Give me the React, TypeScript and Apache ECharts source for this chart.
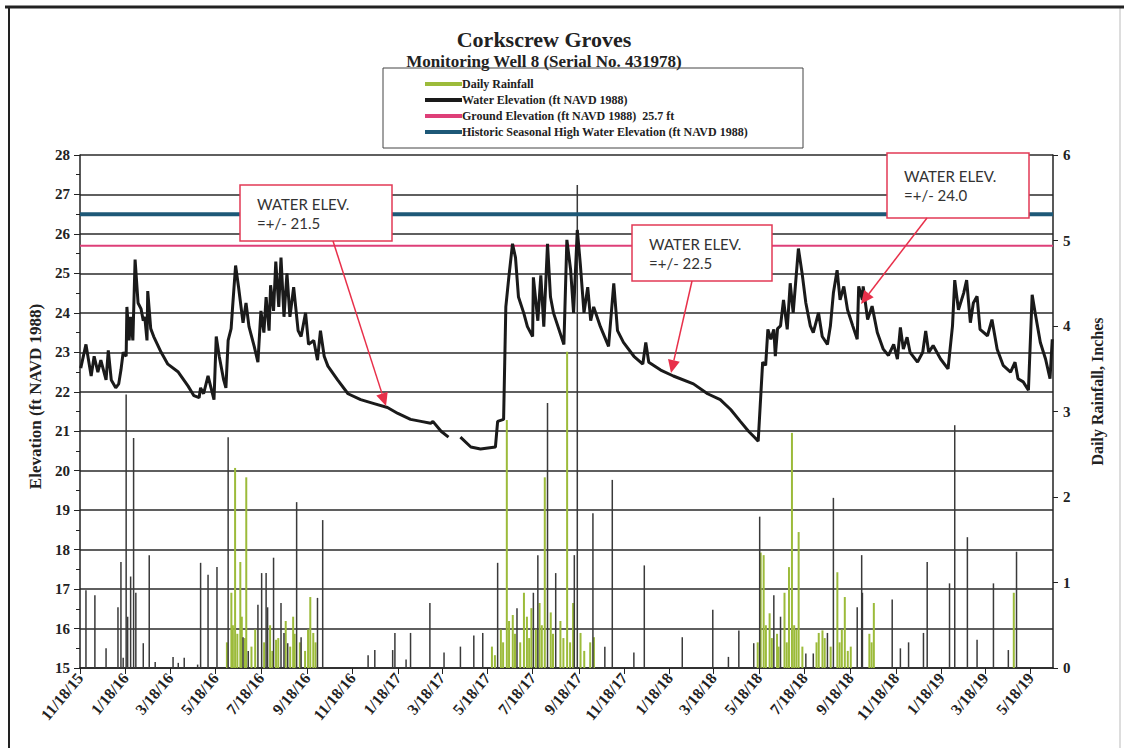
import React, { useEffect, useRef } from 'react';
import * as echarts from 'echarts';

const chartTitle = 'Corkscrew Groves';
const chartSubtitle = 'Monitoring Well 8 (Serial No. 431978)';

const xStart = '2015-11-18';
const xEnd = '2019-06-17';

const tickDates = [
  '2015-11-18', '2016-01-18', '2016-03-18', '2016-05-18', '2016-07-18', '2016-09-18',
  '2016-11-18', '2017-01-18', '2017-03-18', '2017-05-18', '2017-07-18', '2017-09-18',
  '2017-11-18', '2018-01-18', '2018-03-18', '2018-05-18', '2018-07-18', '2018-09-18',
  '2018-11-18', '2019-01-18', '2019-03-18', '2019-05-18',
];
const tickLabels = [
  '11/18/15', '1/18/16', '3/18/16', '5/18/16', '7/18/16', '9/18/16',
  '11/18/16', '1/18/17', '3/18/17', '5/18/17', '7/18/17', '9/18/17',
  '11/18/17', '1/18/18', '3/18/18', '5/18/18', '7/18/18', '9/18/18',
  '11/18/18', '1/18/19', '3/18/19', '5/18/19',
];

const waterDates = [
  '2015-11-19', '2015-11-26', '2015-12-03', '2015-12-07', '2015-12-12', '2015-12-16', '2015-12-23', '2015-12-26', '2015-12-30',
  '2016-01-05', '2016-01-09', '2016-01-12', '2016-01-15', '2016-01-19', '2016-01-20', '2016-01-23', '2016-01-25', '2016-01-28', '2016-01-31',
  '2016-02-04', '2016-02-08', '2016-02-11', '2016-02-13', '2016-02-16', '2016-02-17', '2016-02-21', '2016-02-25',
  '2016-03-06', '2016-03-15', '2016-03-29', '2016-04-11', '2016-04-19', '2016-04-26', '2016-04-28',
  '2016-05-02', '2016-05-08', '2016-05-12', '2016-05-16', '2016-05-19', '2016-05-23', '2016-05-29',
  '2016-06-01', '2016-06-04', '2016-06-08', '2016-06-10', '2016-06-14', '2016-06-18', '2016-06-24', '2016-06-28',
  '2016-07-02', '2016-07-09', '2016-07-14', '2016-07-18', '2016-07-22', '2016-07-25', '2016-07-29', '2016-07-31',
  '2016-08-04', '2016-08-07', '2016-08-11', '2016-08-14', '2016-08-18', '2016-08-22', '2016-08-26', '2016-08-31',
  '2016-09-06', '2016-09-10', '2016-09-16', '2016-09-20', '2016-09-27',
  '2016-10-02', '2016-10-06', '2016-10-11', '2016-10-16', '2016-10-29', '2016-11-12', '2016-11-29', '2016-12-17',
  '2017-01-04', '2017-01-18', '2017-02-04', '2017-02-18', '2017-03-03', '2017-03-06', '2017-03-17', '2017-03-27',
  '2017-04-04', '2017-04-12', '2017-04-26', '2017-05-09', '2017-05-29',
  '2017-06-01', '2017-06-09', '2017-06-12', '2017-06-16', '2017-06-21', '2017-06-25', '2017-06-29',
  '2017-07-06', '2017-07-11', '2017-07-18', '2017-07-19', '2017-07-25', '2017-07-29',
  '2017-08-02', '2017-08-07', '2017-08-11', '2017-08-15', '2017-08-29',
  '2017-09-02', '2017-09-07', '2017-09-11', '2017-09-16', '2017-09-20', '2017-09-25', '2017-09-30',
  '2017-10-04', '2017-10-08', '2017-10-17', '2017-10-28', '2017-11-04', '2017-11-09', '2017-11-17',
  '2017-12-01', '2017-12-13', '2017-12-17', '2017-12-21',
  '2018-01-06', '2018-01-23', '2018-02-19', '2018-03-10', '2018-03-27', '2018-04-10', '2018-04-23',
  '2018-05-04', '2018-05-13', '2018-05-17', '2018-05-23', '2018-05-27', '2018-05-30',
  '2018-06-03', '2018-06-07', '2018-06-09', '2018-06-12', '2018-06-16', '2018-06-20', '2018-06-25', '2018-06-29',
  '2018-07-03', '2018-07-10', '2018-07-15', '2018-07-20', '2018-07-26', '2018-07-30',
  '2018-08-06', '2018-08-11', '2018-08-18', '2018-08-22', '2018-08-26', '2018-08-31',
  '2018-09-04', '2018-09-09', '2018-09-14', '2018-09-21', '2018-09-27', '2018-09-29',
  '2018-10-04', '2018-10-05', '2018-10-11', '2018-10-17', '2018-10-24',
  '2018-11-01', '2018-11-08', '2018-11-15', '2018-11-20', '2018-11-24', '2018-11-28',
  '2018-12-03', '2018-12-07', '2018-12-17', '2018-12-24', '2018-12-28',
  '2019-01-01', '2019-01-07', '2019-01-17', '2019-01-27',
  '2019-02-02', '2019-02-05', '2019-02-10', '2019-02-17', '2019-02-21', '2019-02-26',
  '2019-03-02', '2019-03-07', '2019-03-11', '2019-03-21', '2019-03-27',
  '2019-04-03', '2019-04-11', '2019-04-21', '2019-04-27',
  '2019-05-01', '2019-05-08', '2019-05-15', '2019-05-20', '2019-05-24', '2019-05-31',
  '2019-06-07', '2019-06-13', '2019-06-16',
];
const waterValues: (number | null)[] = [
  22.6, 23.2, 22.4, 22.9, 22.5, 22.8, 22.3, 23.05, 22.3,
  22.1, 22.2, 22.55, 23.0, 22.9, 24.15, 23.3, 23.9, 23.3, 25.35,
  24.25, 24.1, 23.8, 23.9, 23.3, 24.55, 23.6, 23.4,
  23.0, 22.7, 22.5, 22.15, 21.9, 21.85, 22.1,
  21.95, 22.4, 22.1, 21.8, 23.4, 22.9, 22.3,
  22.1, 23.3, 23.6, 24.15, 25.2, 24.65, 23.75, 24.25,
  23.65, 23.15, 22.75, 24.05, 23.5, 24.4, 23.55, 24.7,
  24.05, 25.3, 24.15, 25.4, 23.9, 25.0, 23.9, 24.65,
  23.55, 23.4, 24.0, 23.2, 23.3,
  22.8, 23.55, 22.9, 22.65, 22.3, 21.95, 21.8, 21.7,
  21.6, 21.45, 21.3, 21.25, 21.2, 21.25, 21.0, 20.85,
  null, 20.85, 20.6, 20.55, 20.6,
  21.25, 21.3, 24.15, 24.9, 25.75, 25.4, 24.4,
  24.0, 23.65, 23.4, 24.9, 23.8, 24.95,
  23.65, 25.75, 24.4, 24.0, 23.2,
  25.85, 25.1, 24.0, 26.1, 25.25, 24.0, 24.65,
  23.8, 24.15, 23.65, 23.15, 24.75, 23.55, 23.25,
  22.9, 22.7, 23.25, 22.75,
  22.55, 22.4, 22.2, 21.95, 21.8, 21.55, 21.25,
  21.0, 20.83, 20.75, 22.75, 22.67, 23.58,
  23.33, 23.58, 22.9, 23.6, 23.67, 24.33, 23.58, 24.75,
  24.0, 25.63, 25.0, 24.25, 23.67, 23.5,
  24.0, 23.4, 23.2, 23.67, 24.5, 25.08,
  24.33, 24.67, 24.08, 23.67, 23.33, 24.67,
  24.33, 24.67, 23.83, 24.17, 23.5,
  23.08, 22.92, 23.2, 22.83, 23.63, 23.08,
  23.38, 23.0, 22.75, 23.0, 23.54,
  23.0, 23.17, 22.83, 22.58,
  23.67, 24.83, 24.08, 24.5, 24.83, 23.75,
  24.25, 24.42, 23.58, 23.42, 23.83,
  23.08, 22.67, 22.5, 22.75,
  22.33, 22.25, 22.04, 24.46, 24.0, 23.25,
  22.83, 22.33, 23.33,
];

// Daily rainfall (inches) printed in green in the reference
const rainGreenDates = [
  '2016-06-02', '2016-06-08', '2016-06-10', '2016-06-13', '2016-06-16', '2016-06-20', '2016-06-22', '2016-06-26', '2016-06-28',
  '2016-07-05', '2016-07-10', '2016-07-22', '2016-07-30', '2016-08-02', '2016-08-07', '2016-08-10', '2016-08-20', '2016-08-26',
  '2016-08-30', '2016-09-01', '2016-09-08', '2016-09-15', '2016-09-19', '2016-09-22', '2016-09-26', '2016-09-29',
  '2017-05-24', '2017-05-28', '2017-06-05', '2017-06-08', '2017-06-13', '2017-06-16', '2017-06-21', '2017-06-24',
  '2017-07-01', '2017-07-06', '2017-07-10', '2017-07-13', '2017-07-16', '2017-07-22', '2017-07-27', '2017-07-30',
  '2017-08-03', '2017-08-11', '2017-08-14', '2017-08-24', '2017-08-28', '2017-09-02', '2017-09-06', '2017-09-10',
  '2017-09-20', '2017-09-25', '2017-10-03', '2017-10-08',
  '2018-05-16', '2018-05-20', '2018-05-24', '2018-05-27', '2018-06-01', '2018-06-04', '2018-06-11', '2018-06-13',
  '2018-06-21', '2018-06-24', '2018-06-27', '2018-07-01', '2018-07-04', '2018-07-07', '2018-07-10', '2018-07-15',
  '2018-08-03', '2018-08-06', '2018-08-11', '2018-08-14', '2018-08-22', '2018-08-31', '2018-09-03', '2018-09-06',
  '2018-09-10', '2018-09-14', '2018-09-18', '2018-10-13', '2018-10-16', '2018-10-19', '2019-04-25',
];
const rainGreenValues = [
  0.3, 0.88, 0.5, 2.34, 0.4, 1.24, 0.6, 0.35, 2.23,
  0.25, 0.45, 0.3, 0.5, 0.2, 0.33, 0.35, 0.55, 0.25,
  0.6, 0.4, 0.3, 0.2, 0.45, 0.83, 0.41, 0.3,
  0.25, 0.15, 0.45, 0.3, 2.9, 0.55, 0.62, 0.4,
  0.3, 0.88, 0.6, 0.35, 0.7, 0.45, 0.76, 0.5,
  2.23, 0.65, 0.4, 0.55, 0.35, 3.7, 0.3, 0.76,
  0.41, 0.2, 0.3, 0.36,
  0.3, 1.35, 1.32, 0.5, 0.64, 0.35, 0.4, 0.25,
  0.88, 0.3, 1.18, 2.75, 0.5, 0.45, 1.59, 0.25,
  0.3, 0.41, 0.44, 0.35, 0.25, 1.12, 0.3, 0.45,
  0.83, 0.2, 0.25, 0.4, 0.3, 0.76, 0.88,
];

// Daily rainfall (inches) printed dark in the reference
const rainDarkDates = [
  '2015-11-26', '2015-12-08', '2015-12-23', '2016-01-08', '2016-01-12', '2016-01-15', '2016-01-19', '2016-01-21',
  '2016-01-25', '2016-01-29', '2016-02-01', '2016-02-11', '2016-02-19', '2016-02-27', '2016-03-22', '2016-03-29',
  '2016-04-06', '2016-04-24', '2016-04-28', '2016-05-08', '2016-05-20', '2016-06-04', '2016-06-24', '2016-07-01',
  '2016-07-14', '2016-07-19', '2016-07-25', '2016-07-27', '2016-08-04', '2016-08-14', '2016-08-18', '2016-08-23',
  '2016-09-04', '2016-09-10', '2016-10-02', '2016-10-09', '2016-12-09', '2016-12-18',
  '2017-01-11', '2017-01-14', '2017-01-29', '2017-02-04', '2017-03-02', '2017-03-21', '2017-04-12', '2017-04-30',
  '2017-05-12', '2017-06-01', '2017-06-27', '2017-07-19', '2017-07-25', '2017-08-07', '2017-08-18', '2017-09-12',
  '2017-09-16', '2017-10-07', '2017-10-23', '2017-11-02', '2017-12-01', '2017-12-15',
  '2018-02-04', '2018-03-17', '2018-04-07', '2018-04-21', '2018-05-11', '2018-05-19', '2018-06-07', '2018-06-16',
  '2018-07-20', '2018-07-30', '2018-08-18', '2018-08-26', '2018-09-27', '2018-10-03', '2018-10-04',
  '2018-11-13', '2018-11-24', '2018-12-05', '2018-12-25', '2018-12-30',
  '2019-01-29', '2019-02-05', '2019-02-22', '2019-03-07', '2019-03-29', '2019-04-18', '2019-04-29',
];
const rainDarkValues = [
  0.91, 0.85, 0.23, 0.71, 1.24, 0.12, 3.2, 0.6,
  1.07, 2.69, 0.88, 0.29, 1.32, 0.07, 0.13, 0.06,
  0.12, 0.04, 1.23, 1.09, 1.18, 2.7, 0.36, 0.2,
  0.74, 1.11, 1.11, 0.71, 1.29, 0.76, 0.41, 0.29,
  1.94, 0.36, 0.82, 1.73, 0.15, 0.21,
  0.21, 0.41, 0.1, 0.41, 0.76, 0.18, 0.25, 0.38,
  0.41, 1.23, 0.7, 0.88, 1.32, 3.1, 1.11, 1.32,
  5.65, 1.81, 0.25, 2.2, 0.18, 1.2,
  0.36, 0.68, 0.13, 0.44, 0.29, 1.77, 0.85, 0.6,
  0.17, 0.17, 0.41, 1.99, 0.71, 1.32, 0.88,
  0.8, 0.23, 0.3, 0.41, 1.24,
  0.99, 2.84, 1.53, 0.33, 0.99, 0.21, 1.36,
];

const groundElevation = 25.7;
const seasonalHighElevation = 26.5;

const rainfallName = 'Daily Rainfall';
const waterName = 'Water Elevation (ft NAVD 1988)';
const groundName = `Ground Elevation (ft NAVD 1988)  ${groundElevation} ft`;
const seasonalName = 'Historic Seasonal High Water Elevation (ft NAVD 1988)';

const annotationLines = [
  ['WATER ELEV.', '=+/- 21.5'],
  ['WATER ELEV.', '=+/- 22.5'],
  ['WATER ELEV.', '=+/- 24.0'],
];

const ts = (s: string) => Date.parse(s + 'T00:00:00Z');

const SERIF = '"Liberation Serif", "DejaVu Serif", serif';
const SANS = 'Lato, "Open Sans", sans-serif';

// Layout of the callout boxes (pixel geometry, not data)
const calloutLayout = [
  { box: [240, 185, 152, 56], from: [333, 241], to: [386, 406] },
  { box: [632, 225, 140, 56], from: [692, 281], to: [671, 373] },
  { box: [887, 153, 142, 65], from: [927, 218], to: [861, 304] },
];

function buildCallouts() {
  const els: any[] = [];
  calloutLayout.forEach((c, i) => {
    const [bx, by, bw, bh] = c.box;
    const [x1, y1] = c.from;
    const [x2, y2] = c.to;
    const dx = x2 - x1;
    const dy = y2 - y1;
    const len = Math.sqrt(dx * dx + dy * dy);
    const ux = dx / len;
    const uy = dy / len;
    const hl = 13;
    const hw = 6;
    const bxp = x2 - ux * hl;
    const byp = y2 - uy * hl;
    els.push({
      type: 'rect',
      shape: { x: bx, y: by, width: bw, height: bh },
      style: { fill: '#ffffff', stroke: '#e23a55', lineWidth: 1.5 },
      z: 100,
    });
    els.push({
      type: 'text',
      x: bx + 17,
      y: by + bh / 2 - 2,
      style: {
        text: annotationLines[i][0],
        font: `15px ${SANS}`,
        fill: '#333333',
        textVerticalAlign: 'bottom',
      },
      z: 101,
    });
    els.push({
      type: 'text',
      x: bx + 17,
      y: by + bh / 2 + 2,
      style: {
        text: annotationLines[i][1],
        font: `15px ${SANS}`,
        fill: '#333333',
        textVerticalAlign: 'top',
      },
      z: 101,
    });
    els.push({
      type: 'line',
      shape: { x1, y1, x2: bxp, y2: byp },
      style: { stroke: '#e8304a', lineWidth: 1.5 },
      z: 100,
    });
    els.push({
      type: 'polygon',
      shape: {
        points: [
          [x2, y2],
          [bxp - uy * hw, byp + ux * hw],
          [bxp + uy * hw, byp - ux * hw],
        ],
      },
      style: { fill: '#e8304a' },
      z: 100,
    });
  });
  return els;
}

export default function App() {
  const ref = useRef<HTMLDivElement>(null);

  useEffect(() => {
    if (!ref.current) return;
    const chart = echarts.init(ref.current, undefined, { renderer: 'svg' });
    const tickTs = tickDates.map(ts);
    const xMin = ts(xStart);
    const xMax = ts(xEnd);

    const waterData = waterDates.map((d, i) => [ts(d), waterValues[i]]);
    const rainGreenData = rainGreenDates.map((d, i) => [ts(d), rainGreenValues[i]]);
    const rainDarkData = rainDarkDates.map((d, i) => [ts(d), rainDarkValues[i]]);

    const axisFont = { fontFamily: SERIF, fontWeight: 'bold' as const, color: '#222' };

    const option: any = {
      animation: false,
      backgroundColor: '#ffffff',
      title: {
        text: chartTitle,
        subtext: chartSubtitle,
        left: 539,
        top: 23,
        textAlign: 'center',
        itemGap: 3,
        textStyle: { fontFamily: SERIF, fontWeight: 'bold', fontSize: 22, color: '#222' },
        subtextStyle: { fontFamily: SERIF, fontWeight: 'bold', fontSize: 17, color: '#222' },
      },
      legend: {
        orient: 'vertical',
        left: 425,
        top: 78,
        padding: 0,
        itemWidth: 37,
        itemHeight: 4,
        itemGap: 4,
        selectedMode: false,
        data: [
          { name: rainfallName, icon: 'rect', itemStyle: { color: '#9cbb3a' } },
          { name: waterName, icon: 'rect', itemStyle: { color: '#1a1a1a' } },
          { name: groundName, icon: 'rect', itemStyle: { color: '#de3f78' } },
          { name: seasonalName, icon: 'rect', itemStyle: { color: '#1d5877' } },
        ],
        textStyle: {
          fontFamily: SERIF,
          fontWeight: 'bold',
          fontSize: 12,
          color: '#222',
          padding: [0, 0, 0, -5],
        },
      },
      grid: {
        left: 80,
        right: 76,
        top: 155,
        bottom: 80,
        containLabel: false,
        outerBoundsMode: 'none',
      },
      xAxis: {
        type: 'value',
        min: xMin,
        max: xMax,
        splitLine: { show: false },
        axisLine: { show: true, lineStyle: { color: '#222', width: 1.5 } },
        axisTick: { show: true, customValues: tickTs, length: 6, lineStyle: { color: '#222' } },
        axisLabel: {
          customValues: tickTs,
          rotate: 50,
          margin: 7,
          fontSize: 16,
          ...axisFont,
          formatter: (v: number) => {
            const k = tickTs.indexOf(v);
            return k >= 0 ? tickLabels[k] : '';
          },
        },
      },
      yAxis: [
        {
          type: 'value',
          min: 15,
          max: 28,
          interval: 1,
          position: 'left',
          name: 'Elevation (ft NAVD 1988)',
          nameLocation: 'middle',
          nameRotate: 90,
          nameGap: 36,
          nameTextStyle: { fontFamily: SERIF, fontWeight: 'bold', fontSize: 17, color: '#222', padding: [0, 0, 0, 30] },
          axisLine: { show: true, lineStyle: { color: '#222', width: 1.5 } },
          axisTick: { show: true, length: 6, lineStyle: { color: '#222' } },
          minorTick: { show: true, splitNumber: 2, length: 4, lineStyle: { color: '#222' } },
          splitLine: { show: true, lineStyle: { color: '#2a2a2a', width: 1.5 } },
          axisLabel: { fontSize: 15, margin: 10, ...axisFont },
        },
        {
          type: 'value',
          min: 0,
          max: 6,
          interval: 1,
          position: 'right',
          name: 'Daily Rainfall, Inches',
          nameLocation: 'middle',
          nameRotate: 90,
          nameGap: 36,
          nameTextStyle: { fontFamily: SERIF, fontWeight: 'bold', fontSize: 16, color: '#222', padding: [0, 0, 0, 40] },
          axisLine: { show: true, lineStyle: { color: '#222', width: 1.5 } },
          axisTick: { show: true, length: 5, lineStyle: { color: '#222' } },
          splitLine: { show: false },
          axisLabel: { fontSize: 15, margin: 10, ...axisFont },
        },
      ],
      series: [
        {
          name: rainfallName,
          type: 'bar',
          yAxisIndex: 1,
          data: rainGreenData,
          barWidth: 2,
          barGap: '-100%',
          itemStyle: { color: '#9cbb3a' },
          z: 2,
        },
        {
          name: rainfallName,
          type: 'bar',
          yAxisIndex: 1,
          data: rainDarkData,
          barWidth: 1.5,
          barGap: '-100%',
          itemStyle: { color: '#3a3a3a' },
          z: 2,
        },
        {
          name: groundName,
          type: 'line',
          yAxisIndex: 0,
          data: [[xMin, groundElevation], [xMax, groundElevation]],
          symbol: 'none',
          lineStyle: { color: '#de3f78', width: 2 },
          itemStyle: { color: '#de3f78' },
          z: 3,
        },
        {
          name: seasonalName,
          type: 'line',
          yAxisIndex: 0,
          data: [[xMin, seasonalHighElevation], [xMax, seasonalHighElevation]],
          symbol: 'none',
          lineStyle: { color: '#1d5877', width: 4 },
          itemStyle: { color: '#1d5877' },
          z: 3,
        },
        {
          name: waterName,
          type: 'line',
          yAxisIndex: 0,
          data: waterData,
          symbol: 'none',
          connectNulls: false,
          lineStyle: { color: '#1a1a1a', width: 3 },
          itemStyle: { color: '#1a1a1a' },
          z: 4,
        },
      ],
      graphic: [
        {
          type: 'rect',
          shape: { x: 383, y: 68, width: 420, height: 80 },
          style: { fill: 'none', stroke: '#444', lineWidth: 1 },
          z: 50,
        },
        {
          type: 'line',
          shape: { x1: 9, y1: 7, x2: 9, y2: 748 },
          style: { stroke: '#222', lineWidth: 2 },
          z: 50,
        },
        {
          type: 'line',
          shape: { x1: 1120, y1: 7, x2: 1120, y2: 748 },
          style: { stroke: '#bbb', lineWidth: 1 },
          z: 50,
        },
        {
          type: 'line',
          shape: { x1: 5, y1: 7, x2: 1124, y2: 7 },
          style: { stroke: '#222', lineWidth: 3 },
          z: 50,
        },
        ...buildCallouts(),
      ],
    };

    chart.setOption(option);
    return () => {
      chart.dispose();
    };
  }, []);

  return (
    <div
      ref={ref}
      style={{ position: 'absolute', left: 0, top: 0, width: 1129, height: 748, background: '#fff' }}
    />
  );
}
